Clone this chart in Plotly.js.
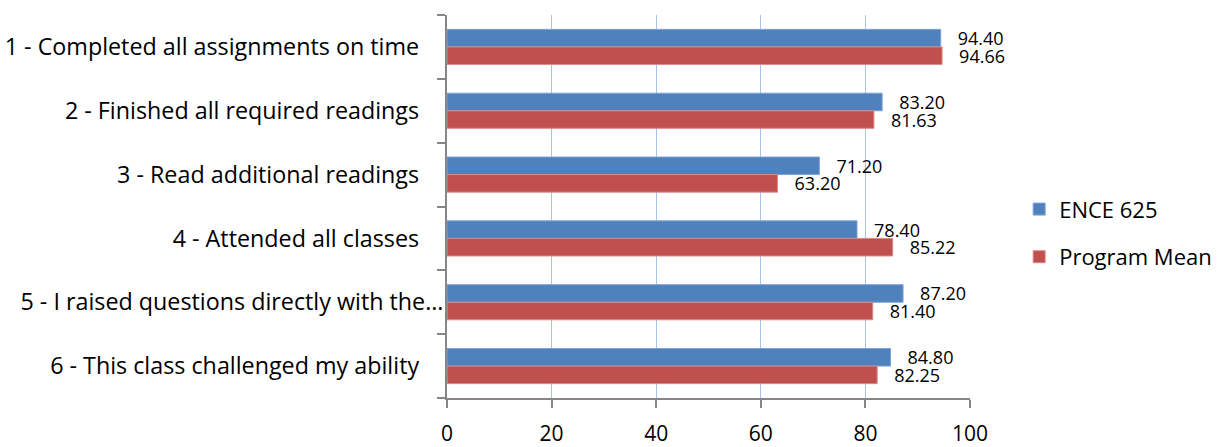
<!DOCTYPE html>
<html>
<head>
<meta charset="utf-8">
<script src="https://cdn.plot.ly/plotly-3.0.1.min.js"></script>
<style>html,body{margin:0;padding:0;background:#fff;}#chart{width:1219px;height:447px;}</style>
</head>
<body>
<div id="chart"></div>
<script>
const categories = [
  "1 - Completed all assignments on time",
  "2 - Finished all required readings",
  "3 - Read additional readings",
  "4 - Attended all classes",
  "5 - I raised questions directly with the\u2026",
  "6 - This class challenged my ability"
];
const seriesNames = ["ENCE 625", "Program Mean"];
const ence625 = [94.40, 83.20, 71.20, 78.40, 87.20, 84.80];
const programMean = [94.66, 81.63, 63.20, 85.22, 81.40, 82.25];
const xTicks = [0, 20, 40, 60, 80, 100];

const FONT = '"Open Sans", "Noto Sans", sans-serif';
const NB = '\u00a0';
const pad = NB + NB + NB;

// tick text: full labels get right padding, the truncated one runs to the axis
const yTickText = categories.map(c => c.endsWith('\u2026') ? c : c + NB + NB + NB + NB);

function barTrace(name, vals, fill, line, grp) {
  return {
    type: 'bar', orientation: 'h', name: name, legendgroup: grp,
    x: vals, y: categories,
    marker: {color: fill, line: {color: line, width: 1}},
    text: vals.map(v => pad + v.toFixed(2)),
    textposition: 'outside', cliponaxis: false, constraintext: 'none',
    textfont: {family: FONT, size: 18, color: '#000'},
    hoverinfo: 'x+name'
  };
}

const data = [
  barTrace(seriesNames[0], ence625, '#4f81bd', '#7da2d6', 'a'),
  barTrace(seriesNames[1], programMean, '#c0504d', '#dc8a88', 'b')
];

const layout = {
  width: 1219, height: 447,
  margin: {l: 447, r: 249, t: 15, b: 49, pad: 0, autoexpand: false},
  paper_bgcolor: '#fff', plot_bgcolor: '#fff',
  barmode: 'group', bargap: 0.45, bargroupgap: 0,
  showlegend: true,
  legend: {
    x: 1.094, y: 0.43, xanchor: 'left', yanchor: 'middle',
    font: {family: FONT, size: 22, color: '#000'},
    traceorder: 'grouped', tracegroupgap: 16,
    itemwidth: 30, bgcolor: 'rgba(0,0,0,0)'
  },
  xaxis: {
    range: [0, 100], tickvals: xTicks, ticktext: xTicks.map(String),
    showgrid: true, gridcolor: '#a9c3e8', gridwidth: 1,
    zeroline: false, showline: true, linecolor: '#868686', linewidth: 2,
    ticks: 'outside', ticklen: 8, tickcolor: '#868686', tickwidth: 2,
    ticklabelstandoff: 8,
    tickfont: {family: FONT, size: 21, color: '#000'},
    fixedrange: true
  },
  yaxis: {
    type: 'category', autorange: 'reversed',
    tickmode: 'array', tickvals: categories, ticktext: yTickText,
    showgrid: false, zeroline: false, showline: true, linecolor: '#868686', linewidth: 2,
    ticks: 'outside', ticklen: 8, tickcolor: '#868686', tickwidth: 2,
    tickson: 'boundaries', ticklabelstandoff: -3,
    tickfont: {family: FONT, size: 23.3, color: '#000'},
    fixedrange: true
  }
};

Plotly.newPlot('chart', data, layout, {displayModeBar: false, staticPlot: true});
</script>
</body>
</html>
